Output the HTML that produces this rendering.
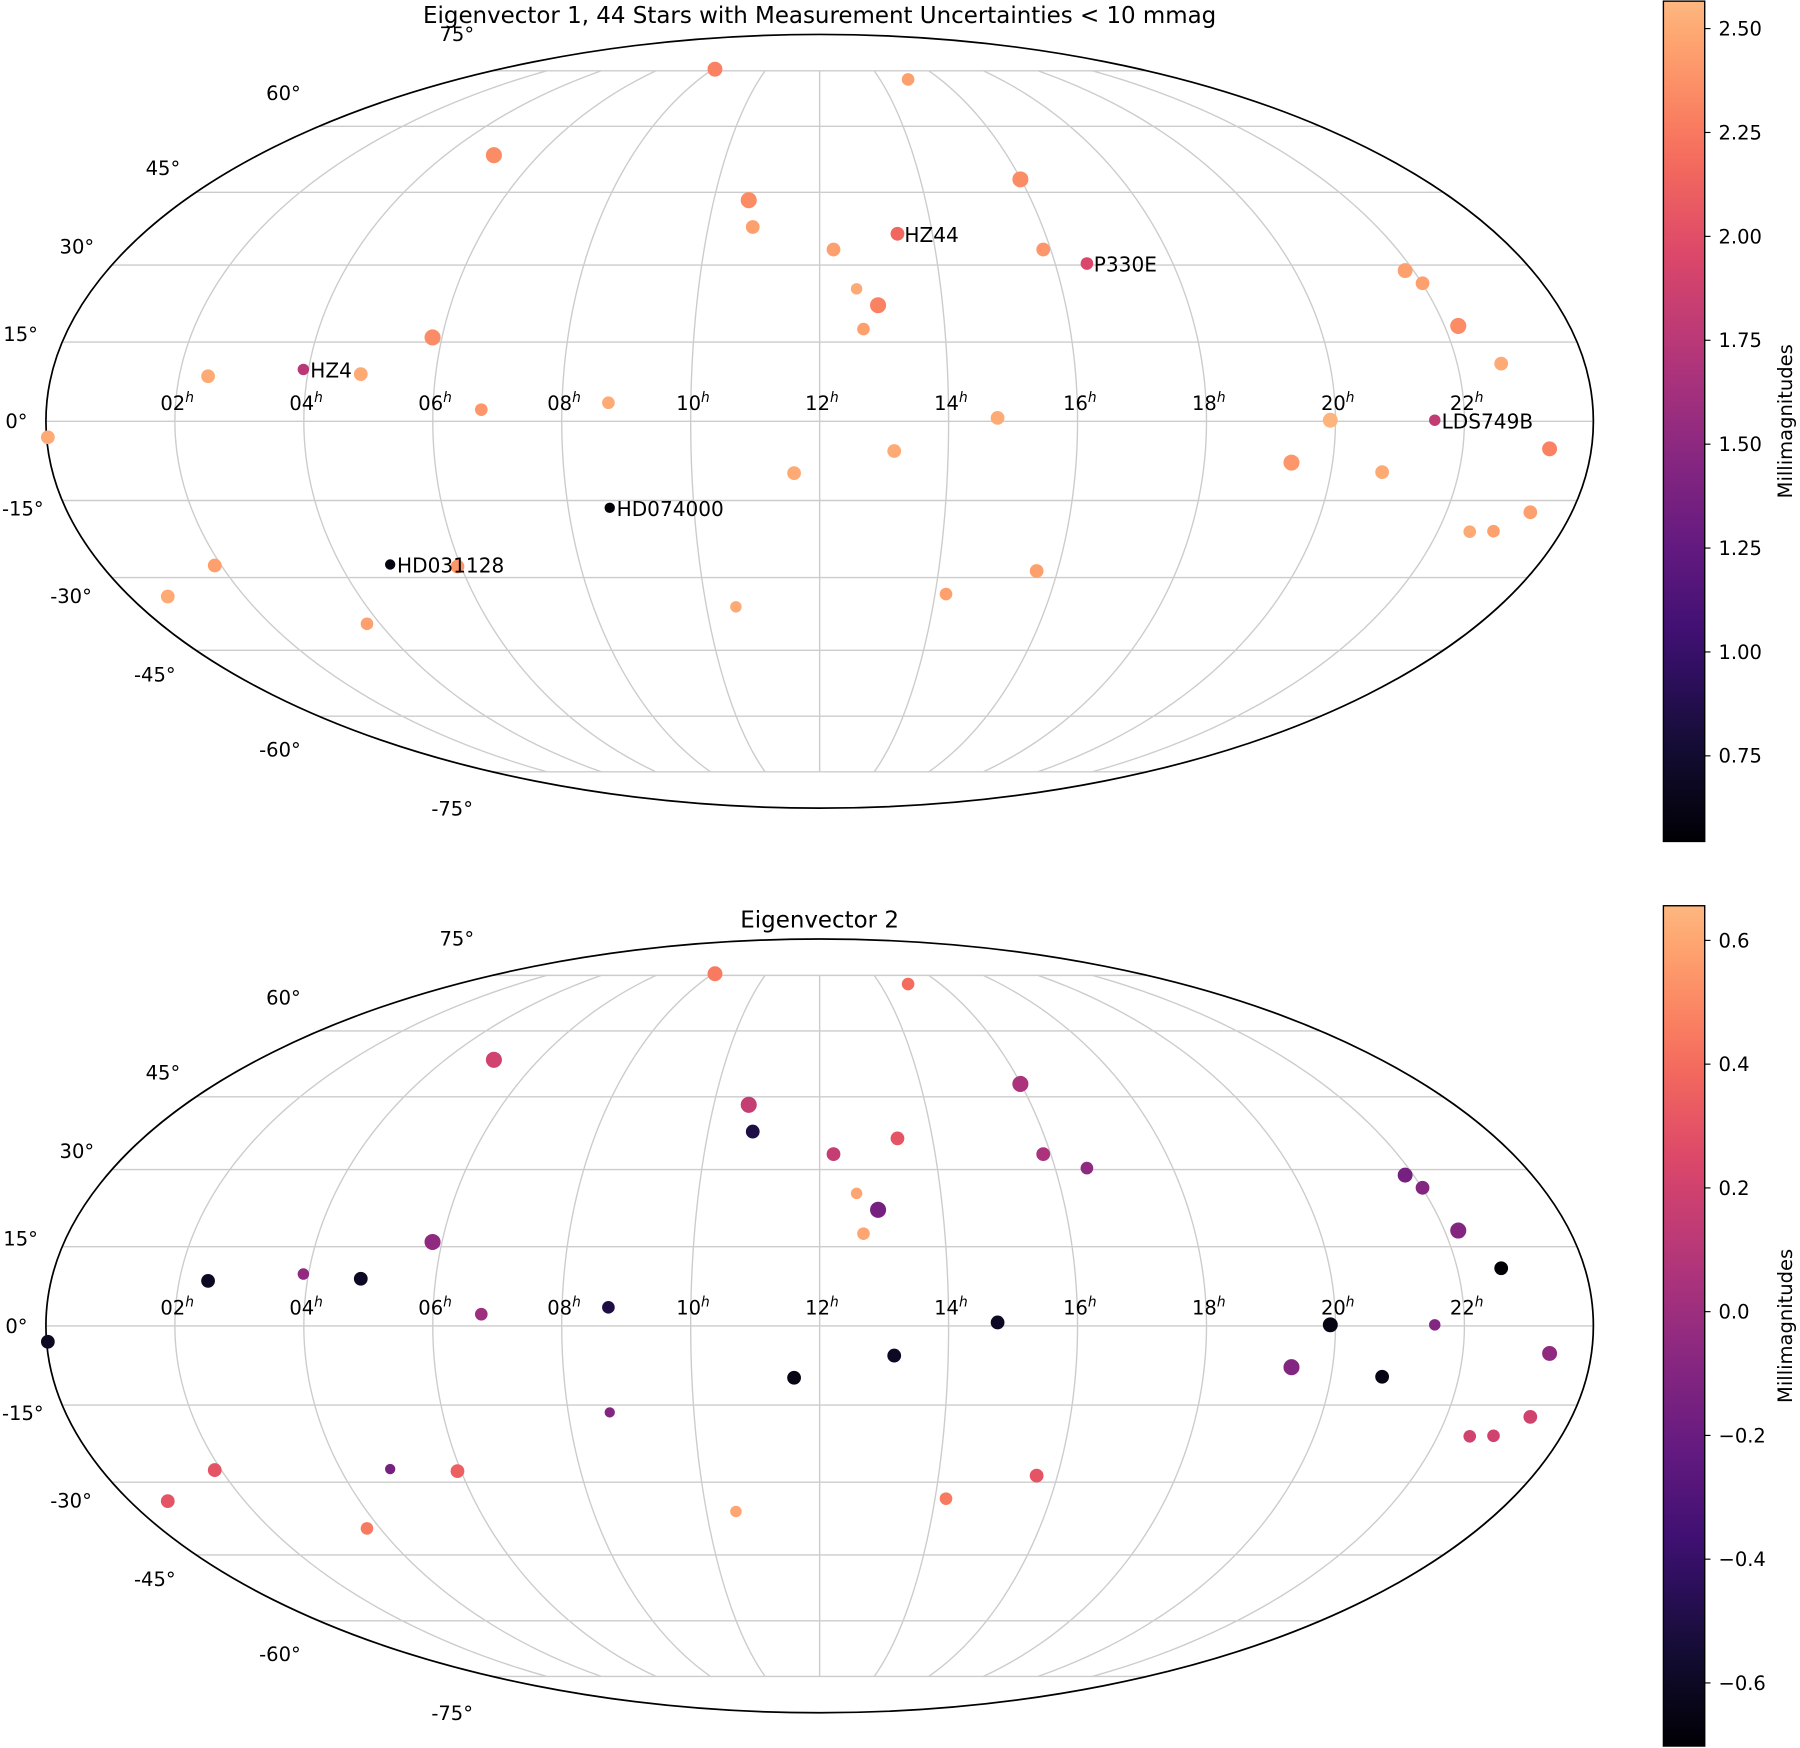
<!DOCTYPE html>
<html><head><meta charset="utf-8"><style>
html,body{margin:0;padding:0;background:#fff;}
svg{display:block;font-family:"DejaVu Sans","Liberation Sans",sans-serif;}
</style></head><body>
<svg id="fig" width="1800" height="1748" viewBox="0 0 1568 1522.7" xmlns="http://www.w3.org/2000/svg">
<defs>
<linearGradient id="magmaGrad" x1="0" y1="1" x2="0" y2="0"></linearGradient>
</defs>
</svg>
<script>
const starRA = [8.08,14.93,5.04,15.99,10.66,10.80,13.38,12.24,15.87,16.54,21.86,22.01,12.61,12.95,12.70,22.22,5.85,22.69,2.45,3.92,4.83,6.75,8.72,14.76,19.92,21.54,0.02,23.35,13.16,19.36,11.60,20.80,8.66,23.34,22.52,22.90,1.89,4.83,5.94,15.65,0.66,14.19,10.52,3.76];
const starDec = [75.5,72.4,53.2,47.8,43.3,37.7,36.3,33.1,33.1,30.3,28.9,26.4,25.3,22.1,17.5,18.1,15.9,10.9,8.5,9.8,8.9,2.2,3.5,0.65,0.2,0.2,-3.0,-5.2,-5.6,-7.8,-9.8,-9.6,-16.4,-17.25,-21.0,-20.9,-27.6,-27.4,-27.8,-28.7,-33.8,-33.3,-35.9,-39.4];
const starSize = [6.5,5.5,7,7,7,6,6,6,6,5.5,6.5,6,5,7,5.5,7,7,6,6,5,6,5.5,5.5,6,6.5,5,6,6.5,6,7,6,6,4.5,6,5.5,5.5,6,4.5,6,6,6,5.5,5,5.5];
const eig1 = [2.3,2.45,2.35,2.35,2.35,2.45,2.15,2.45,2.4,1.95,2.45,2.45,2.5,2.3,2.45,2.35,2.35,2.5,2.5,1.75,2.5,2.4,2.5,2.5,2.55,1.8,2.5,2.3,2.5,2.4,2.5,2.5,0.56,2.45,2.5,2.45,2.45,0.6,2.4,2.45,2.5,2.45,2.5,2.45];
const eig2 = [0.45,0.4,0.2,0.05,0.15,-0.5,0.3,0.15,0.05,-0.05,-0.15,-0.1,0.6,-0.15,0.6,-0.1,-0.05,-0.7,-0.6,-0.05,-0.6,0.0,-0.5,-0.6,-0.65,-0.1,-0.6,-0.05,-0.6,-0.1,-0.65,-0.65,-0.1,0.2,0.2,0.2,0.3,-0.15,0.35,0.3,0.3,0.45,0.6,0.45];
const labelIdx = [6,9,19,25,32,37];
const labelText = ["HZ44","P330E","HZ4","LDS749B","HD074000","HD031128"];
const cb1Ticks = [0.75,1.00,1.25,1.50,1.75,2.00,2.25,2.50];
const cb2Ticks = [-0.6,-0.4,-0.2,0.0,0.2,0.4,0.6];
const hourTicks = [2,4,6,8,10,12,14,16,18,20,22];
const latTicks = [75,60,45,30,15,0,-15,-30,-45,-60,-75];

const NS='http://www.w3.org/2000/svg';
const svg=document.getElementById('fig');
function mk(tag,attrs,parent){const e=document.createElementNS(NS,tag);for(const k in attrs)e.setAttribute(k,attrs[k]);(parent||svg).appendChild(e);return e;}

const magma=[[0,0,0,4],[0.1,20,14,54],[0.2,59,15,112],[0.3,100,26,128],[0.4,140,41,129],[0.5,183,55,121],[0.6,222,73,104],[0.7,247,112,92],[0.8,254,159,109],[0.9,254,207,146],[1,252,253,191]];
function cmap(t){t=Math.max(0,Math.min(1,t))*0.85;for(let i=1;i<magma.length;i++){if(t<=magma[i][0]){const a=magma[i-1],b=magma[i];const f=(t-a[0])/(b[0]-a[0]);return 'rgb('+[1,2,3].map(j=>Math.round(a[j]+f*(b[j]-a[j]))).join(',')+')';}}return 'rgb(252,253,191)';}
const grad=document.getElementById('magmaGrad');
for(let i=0;i<=20;i++){mk('stop',{offset:(i/20),'stop-color':cmap(i/20)},grad);}

function theta(phi){const p=Math.PI*Math.sin(phi);let th=phi;for(let i=0;i<60;i++){const f=2*th+Math.sin(2*th)-p;const d=2+2*Math.cos(2*th);if(Math.abs(d)<1e-9)break;th-=f/d;}return th;}

function drawPanel(cy,values,vmin,vmax,ticks,tickFmt,title,pid){
  const cx=714,a=674,b=337;
  const g=mk('g',{});
  
  
  const proj=(lonDeg,latDeg)=>{const th=theta(latDeg*Math.PI/180);return [cx+a*(lonDeg/180)*Math.cos(th),cy-b*Math.sin(th)];};
  const xr=(ra)=>ra*15-180;
  for(let lat=-75;lat<=75;lat+=15){const p1=proj(-180,lat),p2=proj(180,lat);
    const l=mk('line',{x1:p1[0],y1:p1[1],x2:p2[0],y2:p2[1],stroke:'#cccccc','stroke-width':1.2},g);
    
    }
  for(let lon=-150;lon<=150;lon+=30){let pts=[];for(let lat=-75;lat<=75;lat+=1.5){pts.push(proj(lon,lat).join(','));}
    const m=mk('polyline',{points:pts.join(' '),fill:'none',stroke:'#cccccc','stroke-width':1.2},g);
    
    }
  const el=mk('ellipse',{cx:cx,cy:cy,rx:a,ry:b,fill:'none',stroke:'#000','stroke-width':1.5},g);
  
  
  hourTicks.forEach(h=>{const p=proj(xr(h),0);const t=mk('text',{x:p[0]+2,y:cy-10,'font-size':17,'text-anchor':'middle'},g);
    
    
    t.textContent=(h<10?'0':'')+h;const s=mk('tspan',{'font-size':12,'font-style':'italic',dy:-7},t);s.textContent='h';});
  const latX=[413,262,157,82,33,24,38,80,153,262,412];
  const latOff=[32,29,21,16,7,0,-7,-16,-21,-29,-32];
  latTicks.forEach((lat,i)=>{const y=proj(0,lat)[1]-latOff[i];const t=mk('text',{x:latX[i],y:y+6,'font-size':17,'text-anchor':'end'},g);
    
    
    t.textContent=lat+'°';});
  for(let i=0;i<starRA.length;i++){const p=proj(xr(starRA[i]),starDec[i]);
    const c=mk('circle',{cx:p[0],cy:p[1],r:starSize[i],fill:cmap((values[i]-vmin)/(vmax-vmin))},g);
    
    }
  if(pid==='eig1'){labelIdx.forEach((k,j)=>{const p=proj(xr(starRA[k]),starDec[k]);
    const t=mk('text',{x:p[0]+6,y:p[1]+7,'font-size':17.5},g);
    
    
    t.textContent=labelText[j];});}
  const tt=mk('text',{x:cx,y:cy-347,'font-size':20,'text-anchor':'middle'},g);
  
  
  tt.textContent=title;
  const top=cy-366,bot=cy+366,x0=1449,w=36;
  const cb=mk('rect',{x:x0,y:top,width:w,height:bot-top,fill:'url(#magmaGrad)',stroke:'#000','stroke-width':1.2},g);
  
  
  ticks.forEach(v=>{const y=bot-(v-vmin)/(vmax-vmin)*(bot-top);
    mk('line',{x1:x0+w,y1:y,x2:x0+w+5,y2:y,stroke:'#000','stroke-width':1},g);
    const t=mk('text',{x:x0+w+12,y:y+6,'font-size':17},g);
    
    
    t.textContent=tickFmt(v);});
  const lab=mk('text',{x:0,y:0,'font-size':17,'text-anchor':'middle',transform:'translate(1561,'+cy+') rotate(-90)'},g);
  
  
  lab.textContent='Millimagnitudes';
}
drawPanel(367,eig1,0.544,2.566,cb1Ticks,v=>v.toFixed(2),'Eigenvector 1, 44 Stars with Measurement Uncertainties < 10 mmag','eig1');
drawPanel(1155,eig2,-0.702,0.656,cb2Ticks,v=>(v<0?'\u2212':'')+Math.abs(v).toFixed(1),'Eigenvector 2','eig2');
</script>
</body></html>
